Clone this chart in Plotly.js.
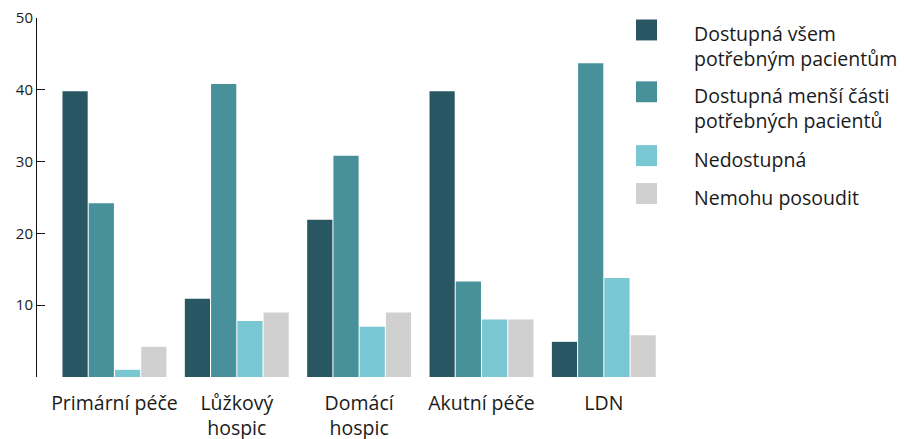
<!DOCTYPE html>
<html>
<head>
<meta charset="utf-8">
<script src="https://cdn.plot.ly/plotly-3.0.1.min.js"></script>
<style>
  html, body { margin: 0; padding: 0; background: #fff; }
  #chart { width: 904px; height: 439px; }
</style>
</head>
<body>
<div id="chart"></div>
<script>
// Categories and tick labels
const categories = ['Primární péče', 'Lůžkový hospic', 'Domácí hospic', 'Akutní péče', 'LDN'];
const tickLabels = ['Primární péče', 'Lůžkový<br>hospic', 'Domácí<br>hospic', 'Akutní péče', 'LDN'];

// Series
const seriesNames = [
  'Dostupná všem<br>potřebným pacientům',
  'Dostupná menší části<br>potřebných pacientů',
  'Nedostupná',
  'Nemohu posoudit'
];
const dostupnaVsem   = [39.8, 10.9, 21.9, 39.8, 4.9];
const dostupnaMensi  = [24.2, 40.8, 30.8, 13.3, 43.7];
const nedostupna     = [1.0, 7.8, 7.0, 8.0, 13.8];
const nemohuPosoudit = [4.2, 9.0, 9.0, 8.0, 5.8];
const seriesValues = [dostupnaVsem, dostupnaMensi, nedostupna, nemohuPosoudit];
const seriesColors = ['#285763', '#48919a', '#79c7d2', '#d0d0d0'];

const FONT = '"Open Sans", Lato, sans-serif';
const TEXT = '#1a1a1a';

// Plot area in pixels
const W = 904, H = 439;
const M = { l: 37, r: 239, t: 17.5, b: 61.5 };
const plotW = W - M.l - M.r, plotH = H - M.t - M.b;
const px2x = px => (px - M.l) / plotW;
const px2y = py => (H - M.b - py) / plotH;

const traces = seriesValues.map((vals, i) => ({
  type: 'bar',
  name: seriesNames[i],
  x: categories,
  y: vals,
  marker: { color: seriesColors[i] },
  showlegend: false,
  hoverinfo: 'x+y'
}));

// Legend: coloured squares with labels to the right
const legendSquareTop = [19, 81, 145, 183];
const shapes = [], annotations = [];
seriesNames.forEach((name, i) => {
  const top = legendSquareTop[i];
  shapes.push({
    type: 'rect', xref: 'paper', yref: 'paper',
    x0: px2x(636), x1: px2x(657), y0: px2y(top + 21), y1: px2y(top),
    fillcolor: seriesColors[i], line: { width: 0 }
  });
  annotations.push({
    xref: 'paper', yref: 'paper',
    x: px2x(692), y: px2y(top - 1),
    xanchor: 'left', yanchor: 'top', align: 'left',
    text: name, showarrow: false,
    font: { family: FONT, size: 19.5, color: TEXT }
  });
});

const layout = {
  width: W, height: H,
  margin: M,
  paper_bgcolor: '#fff', plot_bgcolor: '#fff',
  barmode: 'group',
  bargap: 0.142,
  bargroupgap: 0.04,
  font: { family: FONT, color: TEXT },
  xaxis: {
    type: 'category',
    range: [-0.633, 4.5],
    tickvals: categories,
    ticktext: tickLabels,
    showline: false, showgrid: false, zeroline: false,
    ticks: '',
    ticklabelstandoff: 12,
    tickfont: { family: FONT, size: 19.5, color: TEXT }
  },
  yaxis: {
    range: [0, 50],
    tickvals: [10, 20, 30, 40, 50],
    showline: true, linecolor: '#111', linewidth: 1,
    showgrid: false, zeroline: false,
    ticks: 'inside', ticklen: 8, tickcolor: '#111', tickwidth: 1,
    tickfont: { family: FONT, size: 15, color: TEXT }
  },
  shapes: shapes,
  annotations: annotations
};

Plotly.newPlot('chart', traces, layout, { displayModeBar: false, staticPlot: true });
</script>
</body>
</html>
